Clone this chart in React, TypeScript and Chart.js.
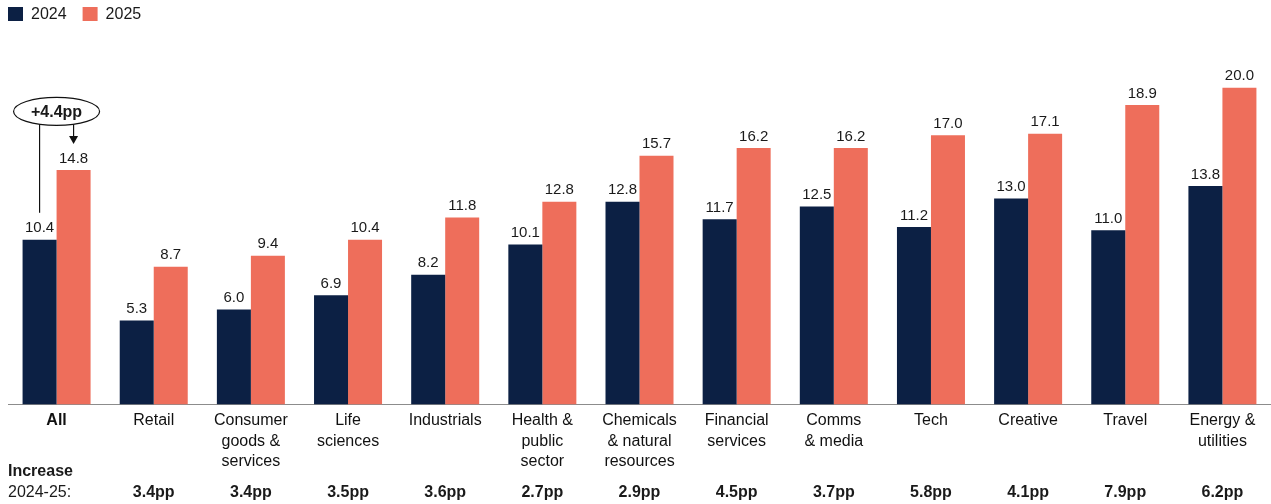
import React, { useEffect, useRef } from "react";
import { Chart, registerables } from "chart.js";

Chart.register(...registerables);

const categories: (string | string[])[] = [
  "All",
  "Retail",
  ["Consumer", "goods &", "services"],
  ["Life", "sciences"],
  "Industrials",
  ["Health &", "public", "sector"],
  ["Chemicals", "& natural", "resources"],
  ["Financial", "services"],
  ["Comms", "& media"],
  "Tech",
  "Creative",
  "Travel",
  ["Energy &", "utilities"],
];

const values2024 = [10.4, 5.3, 6.0, 6.9, 8.2, 10.1, 12.8, 11.7, 12.5, 11.2, 13.0, 11.0, 13.8];
const values2025 = [14.8, 8.7, 9.4, 10.4, 11.8, 12.8, 15.7, 16.2, 16.2, 17.0, 17.1, 18.9, 20.0];
const increases = ["", "3.4pp", "3.4pp", "3.5pp", "3.6pp", "2.7pp", "2.9pp", "4.5pp", "3.7pp", "5.8pp", "4.1pp", "7.9pp", "6.2pp"];
const allIncreaseLabel = "+4.4pp";
const seriesNames = ["2024", "2025"];

const NAVY = "#0c2044";
const SALMON = "#ee6e5b";
const TEXT = "#1a1a1a";
const FONT = "'Liberation Sans', Arial, sans-serif";

const overlayPlugin = {
  id: "overlay",
  afterDatasetsDraw(chart: any) {
    const ctx = chart.ctx as CanvasRenderingContext2D;
    const x = chart.scales.x;
    const y = chart.scales.y;
    ctx.save();

    // legend
    const colors = [NAVY, SALMON];
    ctx.font = `16px ${FONT}`;
    ctx.textBaseline = "middle";
    ctx.textAlign = "left";
    let lx = 8;
    seriesNames.forEach((name, i) => {
      ctx.fillStyle = colors[i];
      ctx.fillRect(lx, 7, 15, 14);
      ctx.fillStyle = TEXT;
      ctx.fillText(name, lx + 23, 14.5);
      lx += 23 + ctx.measureText(name).width + 16;
    });

    // value labels
    ctx.font = `15px ${FONT}`;
    ctx.textAlign = "center";
    ctx.textBaseline = "bottom";
    ctx.fillStyle = TEXT;
    [values2024, values2025].forEach((vals, di) => {
      const meta = chart.getDatasetMeta(di);
      meta.data.forEach((bar: any, i: number) => {
        ctx.fillText(vals[i].toFixed(1), bar.x, bar.y - 4);
      });
    });

    // annotation on "All"
    const b0 = chart.getDatasetMeta(0).data[0];
    const b1 = chart.getDatasetMeta(1).data[0];
    const cx = x.getPixelForValue(0);
    const cy = y.getPixelForValue(18.5);
    const rx = 43;
    const ry = 14;
    ctx.strokeStyle = "#111";
    ctx.lineWidth = 1.2;
    ctx.beginPath();
    ctx.ellipse(cx, cy, rx, ry, 0, 0, Math.PI * 2);
    ctx.stroke();
    ctx.font = `bold 16px ${FONT}`;
    ctx.textBaseline = "middle";
    ctx.fillStyle = TEXT;
    ctx.fillText(allIncreaseLabel, cx, cy + 1);
    const yAt = (px: number) => {
      const d = (px - cx) / rx;
      return cy + ry * Math.sqrt(Math.max(0, 1 - d * d));
    };
    ctx.beginPath();
    ctx.moveTo(b0.x, yAt(b0.x));
    ctx.lineTo(b0.x, b0.y - 27);
    ctx.stroke();
    const tip = b1.y - 26;
    ctx.beginPath();
    ctx.moveTo(b1.x, yAt(b1.x));
    ctx.lineTo(b1.x, tip - 6);
    ctx.stroke();
    ctx.fillStyle = "#111";
    ctx.beginPath();
    ctx.moveTo(b1.x - 4.5, tip - 8);
    ctx.lineTo(b1.x + 4.5, tip - 8);
    ctx.lineTo(b1.x, tip);
    ctx.closePath();
    ctx.fill();

    // increase row
    ctx.fillStyle = TEXT;
    ctx.textAlign = "left";
    ctx.textBaseline = "middle";
    ctx.font = `bold 16px ${FONT}`;
    ctx.fillText("Increase", 8, 472);
    ctx.font = `16px ${FONT}`;
    ctx.fillText("2024-25:", 8, 493);
    ctx.textAlign = "center";
    ctx.font = `bold 16px ${FONT}`;
    increases.forEach((t, i) => {
      if (t) ctx.fillText(t, x.getPixelForValue(i), 493);
    });

    ctx.restore();
  },
};

export default function App() {
  const ref = useRef<HTMLCanvasElement | null>(null);
  useEffect(() => {
    if (!ref.current) return;
    const chart = new Chart(ref.current, {
      type: "bar",
      data: {
        labels: categories as any,
        datasets: [
          { label: seriesNames[0], data: values2024, backgroundColor: NAVY },
          { label: seriesNames[1], data: values2025, backgroundColor: SALMON },
        ],
      },
      options: {
        animation: false,
        responsive: true,
        maintainAspectRatio: false,
        datasets: { bar: { categoryPercentage: 0.7, barPercentage: 1.0 } },
        layout: { padding: { left: 8, right: 0, top: 56, bottom: 26 } },
        plugins: { legend: { display: false }, tooltip: { enabled: false } },
        scales: {
          x: {
            grid: { display: false, drawTicks: false },
            border: { display: true, color: "#8c8c8c", width: 1 },
            ticks: {
              padding: 6,
              color: "#111",
              maxRotation: 0,
              autoSkip: false,
              font: ((c: any) => ({
                family: FONT,
                size: 16,
                lineHeight: 1.28,
                weight: c.index === 0 ? "bold" : "normal",
              })) as any,
            },
          },
          y: { display: false, min: 0, max: 22 },
        },
      },
      plugins: [overlayPlugin],
    });
    return () => chart.destroy();
  }, []);
  return (
    <div style={{ position: "fixed", left: 0, top: 0, width: 1271, height: 504, background: "#fff" }}>
      <canvas ref={ref} />
    </div>
  );
}
